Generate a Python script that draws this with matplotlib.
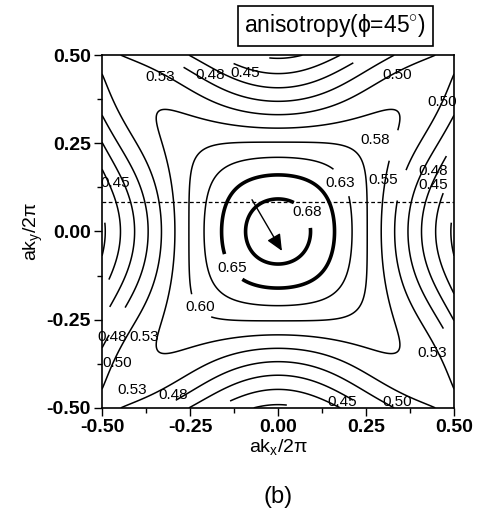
import numpy as np
import matplotlib
matplotlib.use("Agg")
import matplotlib.pyplot as plt
from matplotlib.ticker import MultipleLocator

plt.rcParams['font.family'] = ['Liberation Sans', 'DejaVu Sans']
plt.rcParams['axes.unicode_minus'] = False
plt.rcParams['mathtext.fontset'] = 'custom'
plt.rcParams['mathtext.rm'] = 'Liberation Sans'
plt.rcParams['mathtext.it'] = 'Liberation Sans'

# values at a few points (kx, ky) -> value
ref_points = [(0.00, 0.00), (0.50, 0.00), (0.50, 0.50), (0.293, 0.00), (0.34, 0.34)]
ref_values = [0.688, 0.445, 0.553, 0.575, 0.575]

levels = [0.45, 0.475, 0.50, 0.525, 0.55, 0.575, 0.60, 0.625, 0.65, 0.675]
level_text = ['0.45', '0.48', '0.50', '0.53', '0.55', '0.58', '0.60', '0.63', '0.65', '0.68']
thick_levels = [0.65, 0.675]

# contour labels: which level, and where it sits (data coords)
label_levels = [0.525, 0.475, 0.45, 0.50, 0.50, 0.575, 0.625, 0.55, 0.475, 0.45, 0.45,
                0.675, 0.65, 0.60, 0.475, 0.525, 0.50, 0.525, 0.475, 0.45, 0.50, 0.525]
label_spots = [(-0.335, 0.438), (-0.193, 0.443), (-0.094, 0.449), (0.338, 0.443),
               (0.466, 0.367), (0.276, 0.259), (0.176, 0.137), (0.298, 0.146),
               (0.44, 0.172), (0.44, 0.132), (-0.463, 0.137), (0.082, 0.055),
               (-0.131, -0.103), (-0.222, -0.214), (-0.472, -0.30), (-0.380, -0.30),
               (-0.457, -0.372), (-0.415, -0.449), (-0.298, -0.463), (0.182, -0.483),
               (0.338, -0.483), (0.437, -0.344)]

cut_y = 0.085
arrow_from = (-0.074, 0.09)
arrow_to = (0.011, -0.055)


def basis(kx, ky):
    p = np.abs(np.cos(np.pi * np.asarray(kx, dtype=float)))
    q = np.abs(np.cos(np.pi * np.asarray(ky, dtype=float)))
    return [np.ones_like(p), p**2 + q**2, p * q, p * q * (p + q), (p * q) ** 2]


A = np.array([basis(px, py) for px, py in ref_points], dtype=float)
coef = np.linalg.solve(A, np.array(ref_values))

k = np.linspace(-0.5, 0.5, 601)
KX, KY = np.meshgrid(k, k)
Z = sum(c * b for c, b in zip(coef, basis(KX, KY)))

fig = plt.figure(figsize=(4.79, 5.15), dpi=100)
ax = fig.add_axes([0.213, 0.208, 0.735, 0.685])

# one contour set per level so each label lands on its own level
for lv, txt in zip(levels, level_text):
    lw = 2.6 if lv in thick_levels else 1.1
    cs = ax.contour(KX, KY, Z, levels=[lv], colors='black', linewidths=lw)
    spots = [s for l, s in zip(label_levels, label_spots) if l == lv]
    if spots:
        texts = ax.clabel(cs, fmt={lv: txt}, manual=spots,
                          inline=True, inline_spacing=1, fontsize=11)
        # keep the label text where the reference shows it
        for t, s in zip(texts, spots):
            t.set_rotation(0)
            t.set_position(s)
            t.set_clip_on(False)

ax.axhline(cut_y, color='black', lw=0.9, ls=(0, (3, 2)))
ax.annotate('', xy=arrow_to, xytext=arrow_from,
            arrowprops=dict(arrowstyle='-|>,head_length=1.0,head_width=0.45',
                            color='black', lw=1.0, shrinkA=0, shrinkB=0))

ax.set_xlim(-0.5, 0.5)
ax.set_ylim(-0.5, 0.5)
ax.xaxis.set_major_locator(MultipleLocator(0.25))
ax.yaxis.set_major_locator(MultipleLocator(0.25))
ax.xaxis.set_minor_locator(MultipleLocator(0.125))
ax.yaxis.set_minor_locator(MultipleLocator(0.125))
ax.xaxis.set_major_formatter(lambda v, p: f'{v:.2f}')
ax.yaxis.set_major_formatter(lambda v, p: f'{v:.2f}')
ax.tick_params(which='both', direction='out', top=False, right=False, width=1.0)
ax.tick_params(which='major', length=6, labelsize=14, pad=2)
ax.tick_params(which='minor', length=3.5)
for lab in ax.get_xticklabels() + ax.get_yticklabels():
    lab.set_fontweight('bold')
for s in ax.spines.values():
    s.set_linewidth(1.2)

ax.set_xlabel('ak$_{x}$/2π', fontsize=14, labelpad=1)
ax.set_ylabel('ak$_{y}$/2π', fontsize=14, labelpad=1)

fig.text(0.70, 0.95, 'anisotropy(ϕ=45$^{\\circ}$)', ha='center', va='center', fontsize=16.5,
         bbox=dict(boxstyle='square,pad=0.28', fc='white', ec='black', lw=1.2))
fig.text(0.58, 0.035, '(b)', ha='center', va='center', fontsize=17)

fig.savefig('out.png', dpi=100)
